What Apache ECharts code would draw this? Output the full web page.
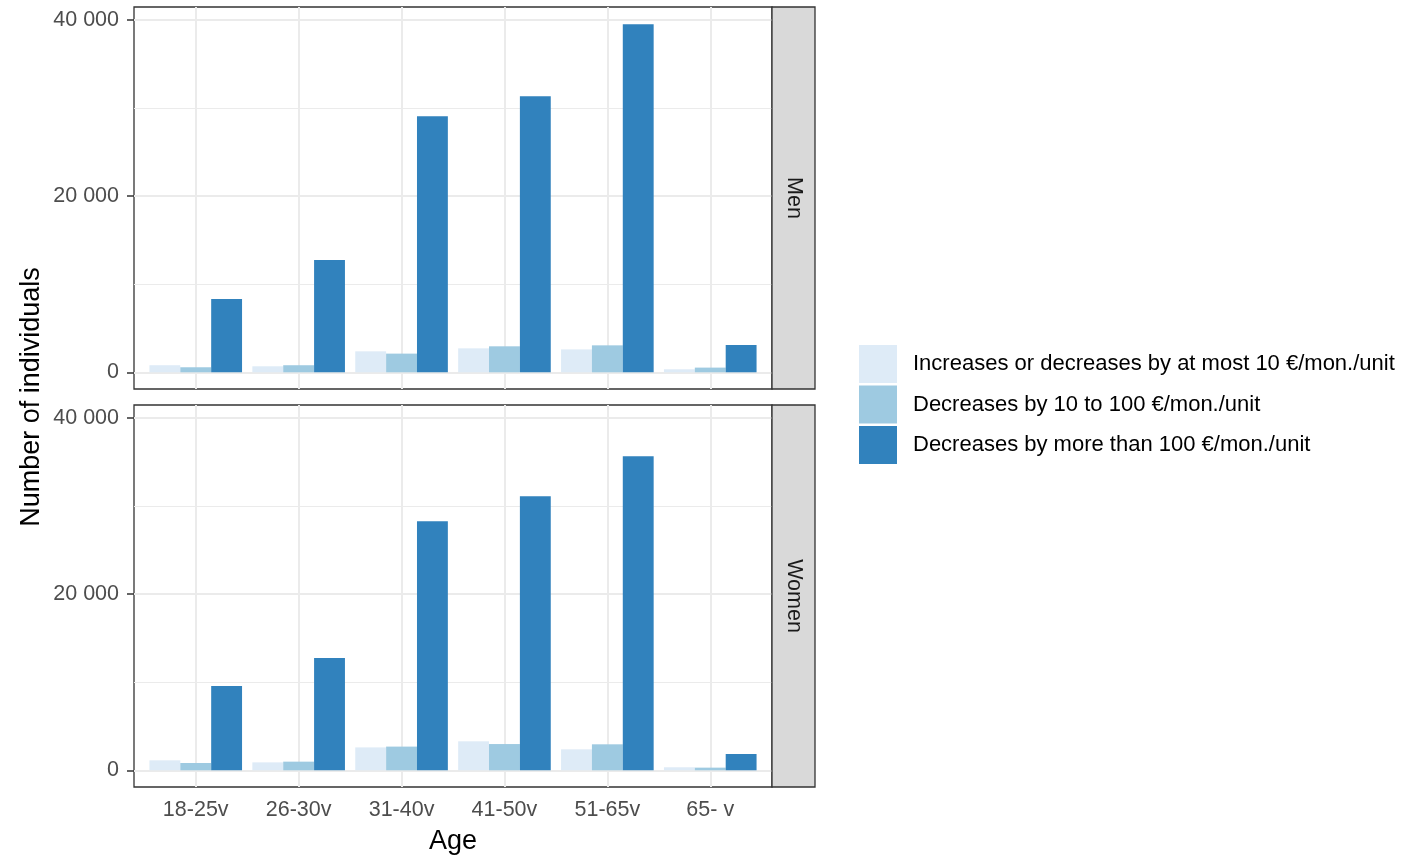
<!DOCTYPE html>
<html>
<head>
<meta charset="utf-8">
<script src="https://cdn.jsdelivr.net/npm/echarts@6/dist/echarts.min.js"></script>
<style>
  html, body { margin: 0; padding: 0; background: #fff; }
  #chart { width: 1402px; height: 858px; }
</style>
</head>
<body>
<div id="chart"></div>
<script>
// Categories and series values
const ageGroups = ['18-25v', '26-30v', '31-40v', '41-50v', '51-65v', '65- v'];
const seriesNames = [
  'Increases or decreases by at most 10 €/mon./unit',
  'Decreases by 10 to 100 €/mon./unit',
  'Decreases by more than 100 €/mon./unit',
];
const panelNames = ['Men', 'Women'];

const menLow = [800, 680, 2380, 2720, 2600, 340];
const menMid = [570, 800, 2120, 2950, 3060, 530];
const menHigh = [8320, 12750, 29090, 31360, 39530, 3100];

const womenLow = [1130, 900, 2600, 3290, 2380, 340];
const womenMid = [830, 980, 2690, 2980, 2950, 300];
const womenHigh = [9570, 12750, 28300, 31130, 35680, 1850];

const yMajorTicks = [0, 20000, 40000];
const yMinorTicks = [10000, 30000];

const colors = ['#DEEBF7', '#9ECAE1', '#3182BD'];

// Layout (ggplot facet_grid look)
const panelLeft = 134;
const panelWidth = 638;
const panelHeight = 382;
const panelTops = [7, 405];
const stripWidth = 43;
const unit = panelWidth / 6.2; // discrete expansion of 0.6 on each side
const dataLeft = panelLeft + 0.1 * unit;
const dataWidth = 6 * unit;
const yMin = -1900;
const yMax = 41500;
const FONT = '"Liberation Sans", Arial, Helvetica, sans-serif';

const fmt = (v) => String(v).replace(/\B(?=(\d{3})+(?!\d))/g, ' ');

const chartDom = document.getElementById('chart');
const chart = echarts.init(chartDom, null, { renderer: 'canvas' });

const grids = [];
const xAxes = [];
const yAxes = [];
const series = [];
const graphics = [];

const panelData = [
  [menLow, menMid, menHigh],
  [womenLow, womenMid, womenHigh],
];

panelTops.forEach((top, p) => {
  const isBottom = p === panelTops.length - 1;
  const frameIdx = p * 2;
  const dataIdx = p * 2 + 1;

  // Frame grid: panel border, y axis, horizontal gridlines
  grids.push({
    left: panelLeft, top: top, width: panelWidth, height: panelHeight,
    show: true, backgroundColor: '#fff', borderColor: '#333333', borderWidth: 1.3,
  });
  xAxes.push({ gridIndex: frameIdx, type: 'value', min: 0, max: 1, show: false });
  yAxes.push({
    gridIndex: frameIdx, type: 'value', min: yMin, max: yMax,
    axisLine: { show: false },
    axisTick: { show: true, length: 7, customValues: yMajorTicks, lineStyle: { color: '#333333', width: 1.5 } },
    axisLabel: {
      customValues: yMajorTicks, formatter: fmt, margin: 15,
      color: '#4D4D4D', fontSize: 21.5, fontFamily: FONT, padding: [2, 0, 0, 0],
    },
    splitLine: { show: false },
  });
  series.push({
    type: 'line', xAxisIndex: frameIdx, yAxisIndex: frameIdx, data: [], z: 1,
    silent: true,
    markLine: {
      silent: true, symbol: 'none', z: 1, animation: false,
      label: { show: false },
      data: yMajorTicks.map((v) => ({ yAxis: v, lineStyle: { color: '#EBEBEB', width: 2, type: 'solid' } }))
        .concat(yMinorTicks.map((v) => ({ yAxis: v, lineStyle: { color: '#EBEBEB', width: 1, type: 'solid' } }))),
    },
  });

  // Data grid: bars on the category axis
  grids.push({ left: dataLeft, top: top, width: dataWidth, height: panelHeight });
  xAxes.push({
    gridIndex: dataIdx, type: 'category', data: ageGroups,
    axisLine: { show: false },
    axisTick: { show: isBottom, alignWithLabel: true, length: 6, lineStyle: { color: '#333333', width: 1.5 } },
    axisLabel: { show: isBottom, color: '#4D4D4D', fontSize: 21.5, fontFamily: FONT, margin: 12 },
    splitLine: { show: false },
  });
  yAxes.push({ gridIndex: dataIdx, type: 'value', min: yMin, max: yMax, show: false, splitLine: { show: false } });

  series.push({
    type: 'line', xAxisIndex: dataIdx, yAxisIndex: dataIdx, data: [], z: 1,
    silent: true,
    markLine: {
      silent: true, symbol: 'none', z: 1, animation: false,
      label: { show: false },
      lineStyle: { color: '#EBEBEB', width: 2, type: 'solid' },
      data: ageGroups.map((c) => ({ xAxis: c })),
    },
  });

  panelData[p].forEach((values, s) => {
    series.push({
      name: seriesNames[s], type: 'bar', xAxisIndex: dataIdx, yAxisIndex: dataIdx,
      data: values, z: 3,
      barGap: '0%', barCategoryGap: '10%',
      itemStyle: { color: colors[s] },
    });
  });

  // Facet strip
  graphics.push({
    type: 'rect', z: 10,
    shape: { x: panelLeft + panelWidth, y: top, width: stripWidth, height: panelHeight },
    style: { fill: '#D9D9D9', stroke: '#333333', lineWidth: 1.3 },
  });
  graphics.push({
    type: 'text', z: 11,
    x: panelLeft + panelWidth + stripWidth / 2, y: top + panelHeight / 2,
    rotation: -Math.PI / 2,
    style: {
      text: panelNames[p], fill: '#1A1A1A', font: '21.5px ' + FONT,
      align: 'center', verticalAlign: 'middle',
    },
  });
});

// Axis titles
graphics.push({
  type: 'text', z: 11, x: 32, y: 397, rotation: Math.PI / 2,
  style: { text: 'Number of individuals', fill: '#000', font: '27px ' + FONT, align: 'center', verticalAlign: 'middle' },
});
graphics.push({
  type: 'text', z: 11, x: panelLeft + panelWidth / 2, y: 842,
  style: { text: 'Age', fill: '#000', font: '27px ' + FONT, align: 'center', verticalAlign: 'middle' },
});

chart.setOption({
  animation: false,
  backgroundColor: '#fff',
  grid: grids,
  xAxis: xAxes,
  yAxis: yAxes,
  legend: {
    data: seriesNames,
    orient: 'vertical',
    left: 859, top: 345,
    padding: 0,
    icon: 'rect',
    itemWidth: 38, itemHeight: 38, itemGap: 2.5,
    textStyle: { color: '#000', fontSize: 22, fontFamily: FONT, padding: [3, 0, 0, 11] },
  },
  series: series,
  graphic: graphics,
});
</script>
</body>
</html>
